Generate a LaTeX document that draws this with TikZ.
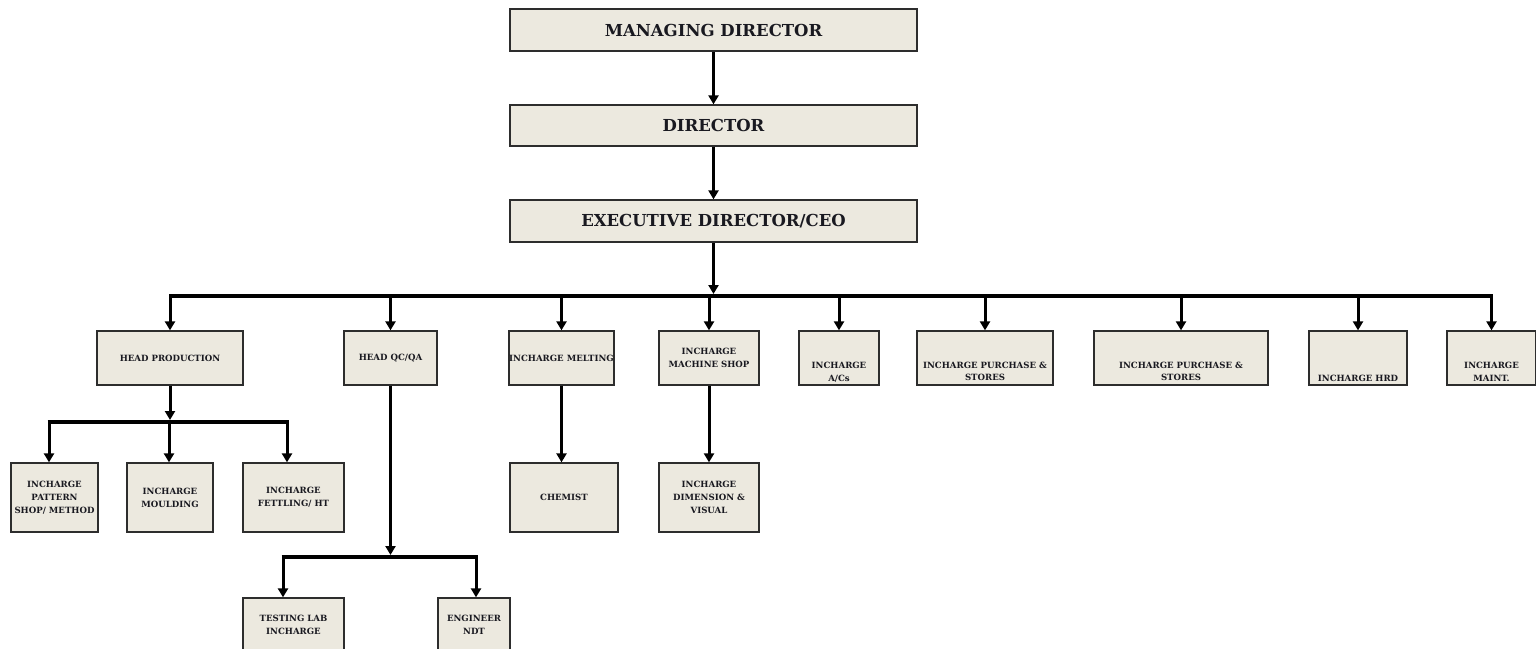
\documentclass[tikz,border=0pt]{standalone}
\usepackage{fontspec}
\setmainfont{DejaVu Serif}
\usetikzlibrary{arrows.meta}
\definecolor{boxfill}{RGB}{236,233,223}
\definecolor{boxline}{RGB}{45,45,45}
\definecolor{ink}{RGB}{25,25,32}
\newcommand{\dnx}[1]{\rule{0pt}{#1pt}}
\newcommand{\orgbox}[7][box]{%
  \pgfmathsetmacro{\obcx}{(#3+#5)/2}\pgfmathsetmacro{\obcy}{(#4+#6)/2}%
  \pgfmathsetmacro{\obw}{#5-#3}\pgfmathsetmacro{\obh}{#6-#4}%
  \node[#1, minimum width=\obw pt, minimum height=\obh pt] (#2) at (\obcx,\obcy) {#7};}
\begin{document}
\begin{tikzpicture}[x=1pt,y=-1pt,
  box/.style={draw=boxline, line width=1.3pt, fill=boxfill, inner sep=0pt, align=center, text=ink,
              font=\bfseries\fontsize{8.6}{12.8}\selectfont},
  bigbox/.style={box, font=\bfseries\fontsize{16.5}{20}\selectfont},
  arr/.style={draw=black, line width=3pt, -{Triangle[length=9pt,width=10pt]}},
  bar/.style={draw=black, line width=4.5pt},
]
\clip (0,0) rectangle (1536,648);
\fill[white] (0,0) rectangle (1536,648);

% top chain
\orgbox[bigbox]{md}{510}{9}{917}{51}{MANAGING DIRECTOR}
\orgbox[bigbox]{dir}{510}{105}{917}{146}{DIRECTOR}
\orgbox[bigbox]{exec}{510}{200}{917}{242}{EXECUTIVE DIRECTOR/CEO}

% level 2
\orgbox{hp}{97}{331}{243}{385}{HEAD PRODUCTION}
\orgbox{qc}{344}{331}{437}{385}{HEAD QC/QA}
\orgbox{melt}{509}{331}{614}{385}{INCHARGE MELTING}
\orgbox{mach}{659}{331}{759}{385}{INCHARGE\\MACHINE SHOP}
\orgbox{ac}{799}{331}{879}{385}{\dnx{34}INCHARGE\\A/Cs}
\orgbox{pur1}{917}{331}{1053}{385}{\dnx{33}INCHARGE PURCHASE \&\\STORES}
\orgbox{pur2}{1094}{331}{1268}{385}{\dnx{33}INCHARGE PURCHASE \&\\STORES}
\orgbox{hrd}{1309}{331}{1407}{385}{\dnx{48}INCHARGE HRD}
\orgbox{maint}{1447}{331}{1536}{385}{\dnx{34}INCHARGE\\MAINT.}

% level 3
\orgbox{pat}{11}{463}{98}{532}{INCHARGE\\PATTERN\\SHOP/ METHOD}
\orgbox{mould}{127}{463}{213}{532}{INCHARGE\\MOULDING}
\orgbox{fett}{243}{463}{344}{532}{INCHARGE\\FETTLING/ HT}
\orgbox{chem}{510}{463}{618}{532}{CHEMIST}
\orgbox{dim}{659}{463}{759}{532}{INCHARGE\\DIMENSION \&\\VISUAL}

% level 4
\orgbox{test}{243}{598}{344}{651}{TESTING LAB\\INCHARGE}
\orgbox{eng}{438}{598}{510}{651}{ENGINEER\\NDT}

% connectors: top chain
\draw[arr] (md) -- (dir);
\draw[arr] (dir) -- (exec);
\coordinate (bus) at (715,296);
\coordinate (busL) at (170,296);
\coordinate (busR) at (1493,296);
\draw[arr, shorten >=2pt] (exec.south) -- (exec.south |- bus);
\draw[bar] (busL) -- (busR);
\foreach \b in {hp,qc,melt,mach,ac,pur1,pur2,hrd,maint}
  \draw[arr] ([yshift=2pt]\b.north |- bus) -- (\b.north);

% under head production
\coordinate (p1) at (49,422);
\coordinate (p2) at (169,422);
\coordinate (p3) at (287,422);
\draw[arr, shorten >=2pt] (hp.south) -- (hp.south |- p2);
\draw[bar] ([xshift=-1.5pt]p1) -- ([xshift=1.5pt]p3);
\draw[arr] ([yshift=2pt]p1) -- (p1 |- pat.north);
\draw[arr] ([yshift=2pt]p2) -- (p2 |- mould.north);
\draw[arr] ([yshift=2pt]p3) -- (p3 |- fett.north);

% under head QC/QA
\coordinate (q1) at (283,557);
\coordinate (q2) at (476,557);
\draw[arr, shorten >=2pt] (qc.south) -- (qc.south |- q1);
\draw[bar] ([xshift=-1.5pt]q1) -- ([xshift=1.5pt]q2);
\draw[arr] ([yshift=2pt]q1) -- (q1 |- test.north);
\draw[arr] ([yshift=2pt]q2) -- (q2 |- eng.north);

% melting / machine shop
\draw[arr] (melt.south) -- (melt.south |- chem.north);
\draw[arr] (mach) -- (dim);
\end{tikzpicture}
\end{document}
